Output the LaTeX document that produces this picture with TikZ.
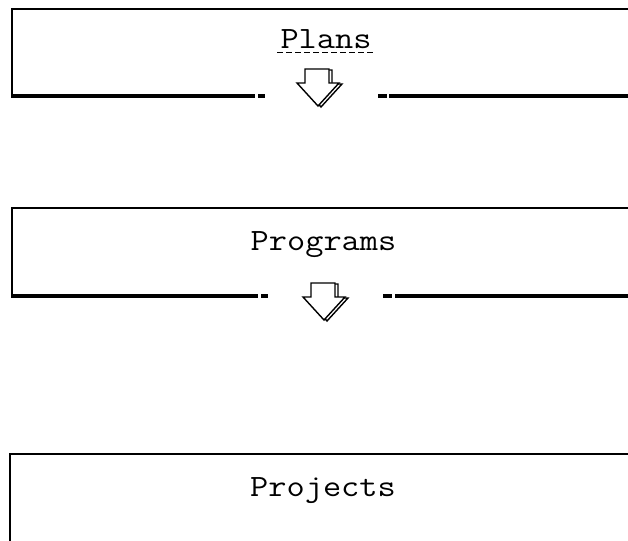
\documentclass[tikz,border=0pt]{standalone}
\usepackage{fontspec}
\setmonofont{Latin Modern Mono}[FakeStretch=1.14]
\begin{document}
\begin{tikzpicture}[x=1pt,y=-1pt,
  boxline/.style={line width=2.2pt},
  baseline/.style={line width=3.2pt},
  label/.style={font=\ttfamily\fontsize{31}{36}\selectfont, anchor=base, inner sep=0pt},
  arrline/.style={line width=1.4pt, line join=miter, fill=white},
  downarrow/.pic={
    \draw[arrline] ([xshift=3pt,yshift=-1pt]8,-14) -- ([xshift=3pt,yshift=-1pt]32,-14) -- ([xshift=3pt,yshift=-1pt]32,0) -- ([xshift=3pt,yshift=-1pt]42,0) -- ([xshift=3pt,yshift=-1pt]21,23) -- ([xshift=3pt,yshift=-1pt]0,0) -- ([xshift=3pt,yshift=-1pt]8,0) -- cycle;
    \draw[arrline] (8,-14) -- (32,-14) -- (32,0) -- (42,0) -- (21,23) -- (0,0) -- (8,0) -- cycle;
  }]
\useasboundingbox (0,0) rectangle (628,540);
% Box 1
\draw[boxline] (640,9) -- (12,9) -- (12,96);
\draw[baseline] (11,96) -- (255,96) (258,96) -- (265,96) (378,96) -- (387,96) (389,96) -- (640,96);
\node[label] (plans) at (326,49) {Plans};
\draw[line width=1pt, dash pattern=on 6pt off 3pt] (277,53) -- (375,53);
\pic at (297,83) {downarrow};
% Box 2
\draw[boxline] (640,208) -- (12,208) -- (12,296);
\draw[baseline] (11,296) -- (258,296) (261,296) -- (268,296) (383,296) -- (392,296) (395,296) -- (640,296);
\node[label] (programs) at (323.5,250) {Programs};
\pic at (303,297) {downarrow};
% Box 3
\draw[boxline] (640,454) -- (10,454) -- (10,560);
\node[label] (projects) at (323,496) {Projects};
\end{tikzpicture}
\end{document}
